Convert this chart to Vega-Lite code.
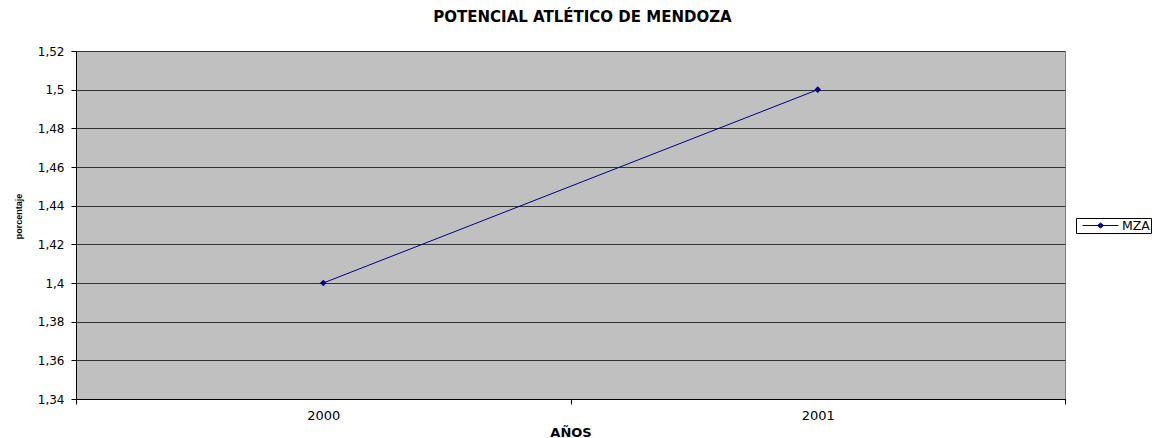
{
  "$schema": "https://vega.github.io/schema/vega-lite/v6.json",
  "autosize": {"type": "none"},
  "width": 989,
  "height": 348,
  "padding": {"left": 76, "top": 51, "right": 97, "bottom": 39},
  "background": "white",
  "title": {
    "text": "POTENCIAL ATLÉTICO DE MENDOZA",
    "font": "DejaVu Sans",
    "fontSize": 15,
    "fontWeight": "bold",
    "color": "#000000",
    "anchor": "middle",
    "dx": 12,
    "offset": 20
  },
  "data": {
    "values": [
      {"year": "2000", "value": 1.4, "series": "MZA"},
      {"year": "2001", "value": 1.5, "series": "MZA"}
    ]
  },
  "mark": {
    "type": "line",
    "strokeWidth": 1,
    "point": {"shape": "diamond", "size": 45, "filled": true}
  },
  "encoding": {
    "x": {
      "field": "year",
      "type": "ordinal",
      "scale": {"paddingInner": 0, "paddingOuter": 0},
      "axis": {
        "title": "AÑOS",
        "titleFont": "DejaVu Sans",
        "titleFontSize": 13,
        "titleFontWeight": "bold",
        "titleColor": "#000000",
        "titlePadding": 4,
        "labelAngle": 0,
        "labelFont": "DejaVu Sans",
        "labelFontSize": 13,
        "labelColor": "#000000",
        "labelPadding": 5,
        "tickBand": "extent",
        "tickColor": "#000000",
        "tickSize": 5,
        "domainColor": "#000000",
        "grid": false
      }
    },
    "y": {
      "field": "value",
      "type": "quantitative",
      "scale": {"domain": [1.34, 1.52], "nice": false, "zero": false},
      "axis": {
        "title": "porcentaje",
        "titleFont": "Liberation Sans",
        "titleFontSize": 9,
        "titleFontWeight": "bold",
        "titleColor": "#000000",
        "titleAngle": 270,
        "titleBaseline": "bottom",
        "titleX": -53,
        "titleY": 165,
        "values": [1.34, 1.36, 1.38, 1.4, 1.42, 1.44, 1.46, 1.48, 1.5, 1.52],
        "labelExpr": "replace(toString(datum.value), '.', ',')",
        "labelFont": "DejaVu Sans",
        "labelFontSize": 12,
        "labelColor": "#000000",
        "labelPadding": 7,
        "tickColor": "#000000",
        "tickSize": 5,
        "domainColor": "#000000",
        "grid": true,
        "gridColor": "#333333",
        "gridWidth": 1
      }
    },
    "color": {
      "field": "series",
      "type": "nominal",
      "scale": {"range": ["#000080"]},
      "legend": {
        "title": null,
        "orient": "none",
        "legendX": 1000,
        "legendY": 167,
        "strokeColor": "#000000",
        "padding": 1,
        "clipHeight": 13,
        "symbolOffset": 5,
        "symbolType": "M-1,0H1M-0.17,0L0,-0.14L0.17,0L0,0.14Z",
        "symbolSize": 1296,
        "symbolStrokeWidth": 1,
        "symbolFillColor": "#000080",
        "symbolStrokeColor": "#000080",
        "labelFont": "DejaVu Sans",
        "labelFontSize": 12.5,
        "labelColor": "#000000",
        "labelOffset": 3
      }
    }
  },
  "config": {
    "view": {"fill": "#C0C0C0", "stroke": "#808080", "strokeWidth": 1}
  }
}
